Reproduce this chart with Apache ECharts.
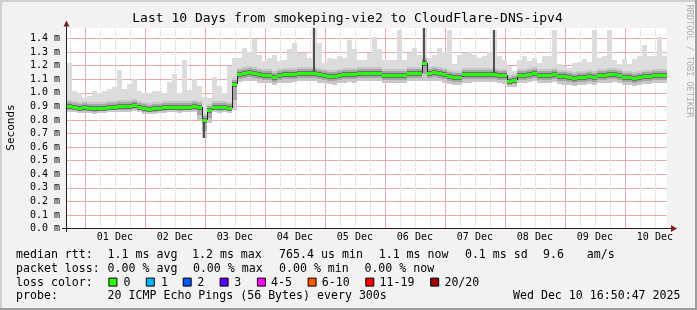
<!DOCTYPE html>
<html><head><meta charset="utf-8">
<script src="https://cdn.jsdelivr.net/npm/echarts@6/dist/echarts.min.js"></script>
<style>html,body{margin:0;padding:0;background:#f2f2f2;}#c{width:697px;height:310px;}</style>
</head><body><div id="c"></div>
<script>
// ---- data (ms), one value per 2-hour bin, starting Nov 30 16:50:47 ----
const binHours = 2;
const median = [
0.902,0.895,0.890,0.893,0.890,0.885,0.888,0.888,0.895,0.895,
0.900,0.902,0.902,0.907,0.898,0.885,0.883,0.885,0.888,0.893,
0.895,0.895,0.895,0.895,0.898,0.900,0.895,0.800,0.870,0.895,
0.893,0.895,0.890,1.065,1.135,1.143,1.150,1.143,1.135,1.130,
1.130,1.120,1.130,1.135,1.135,1.137,1.143,1.147,1.147,1.145,
1.135,1.128,1.125,1.122,1.130,1.135,1.138,1.135,1.143,1.143,
1.147,1.147,1.145,1.130,1.130,1.130,1.130,1.133,1.143,1.143,
1.143,1.220,1.147,1.150,1.143,1.135,1.127,1.120,1.118,1.135,
1.135,1.138,1.140,1.140,1.140,1.140,1.133,1.130,1.085,1.095,
1.133,1.133,1.138,1.147,1.128,1.133,1.133,1.140,1.123,1.123,
1.115,1.112,1.115,1.117,1.122,1.120,1.128,1.128,1.135,1.140,
1.133,1.120,1.115,1.110,1.118,1.122,1.122,1.130,1.130,1.130];
const smokeLow = [
0.860,0.855,0.850,0.852,0.850,0.846,0.848,0.849,0.855,0.856,
0.860,0.861,0.862,0.866,0.858,0.846,0.844,0.845,0.848,0.852,
0.855,0.856,0.854,0.855,0.858,0.860,0.800,0.670,0.780,0.855,
0.853,0.855,0.850,0.870,1.080,1.085,1.090,1.085,1.075,1.070,
1.070,1.060,1.070,1.075,1.075,1.080,1.085,1.090,1.090,1.085,
1.075,1.070,1.065,1.060,1.070,1.075,1.080,1.075,1.085,1.085,
1.090,1.090,1.085,1.070,1.070,1.070,1.070,1.075,1.085,1.085,
1.085,1.090,1.090,1.090,1.085,1.075,1.065,1.060,1.060,1.075,
1.075,1.080,1.080,1.080,1.080,1.080,1.075,1.065,1.040,1.045,
1.075,1.075,1.080,1.085,1.070,1.075,1.075,1.080,1.065,1.060,
1.055,1.050,1.055,1.060,1.065,1.060,1.070,1.070,1.075,1.080,
1.075,1.060,1.055,1.050,1.060,1.065,1.065,1.070,1.070,1.070];
const smokeTop = [
1.220,1.015,1.000,0.960,0.975,1.010,1.000,1.010,1.030,1.040,
1.170,1.030,1.065,1.105,1.010,1.000,1.000,1.010,1.010,1.000,
1.080,1.140,0.995,1.240,1.020,1.100,1.050,0.970,0.960,1.120,
1.050,1.000,1.200,1.260,1.260,1.330,1.300,1.400,1.280,1.235,
1.260,1.280,1.235,1.245,1.320,1.370,1.295,1.295,1.260,1.480,
1.370,1.220,1.260,1.250,1.270,1.260,1.390,1.320,1.245,1.245,
1.290,1.410,1.320,1.245,1.245,1.245,1.460,1.245,1.290,1.330,
1.280,1.480,1.260,1.280,1.330,1.300,1.460,1.210,1.280,1.290,
1.300,1.280,1.260,1.270,1.300,1.460,1.270,1.245,1.200,1.160,
1.245,1.270,1.235,1.260,1.220,1.270,1.270,1.460,1.210,1.200,
1.180,1.220,1.230,1.250,1.230,1.460,1.260,1.270,1.460,1.240,
1.210,1.250,1.210,1.250,1.270,1.350,1.270,1.270,1.410,1.270];
// [bin, value reached by a dark burst of pings]
const darkSpikes = [[27, 0.67], [49, 1.48], [71, 1.48], [85, 1.46]];
const dayLabels = ['01 Dec','02 Dec','03 Dec','04 Dec','05 Dec','06 Dec','07 Dec','08 Dec','09 Dec','10 Dec'];
const firstMidnight = 7 + 9/60 + 13/3600;   // Dec 01 00:00 in hours after start
const spanHours = 240;

// ---- chart ----
const MONO = '"DejaVu Sans Mono", monospace';
const MAJOR = '#eeaaaa', MINOR = '#d2d2d2';
const chart = echarts.init(document.getElementById('c'), null, {renderer: 'canvas', width: 697, height: 310});

// vertical grid lines: [kind, hour]  kind 1 = midnight (major), 2 = every 6 h (minor)
const gridData = [];
for (let h = firstMidnight - 6; h <= spanHours; h += 6) {
  const major = Math.abs(((h - firstMidnight) % 24 + 24) % 24) < 1e-6;
  gridData.push([major ? 1 : 2, h]);
}
const labelHours = dayLabels.map((d, i) => firstMidnight + 12 + 24 * i);

function renderGrid(params, api) {
  const cs = params.coordSys;
  const kind = api.value(0), v = api.value(1);
  const x = Math.round(api.coord([v, 0])[0]) + 0.5;
  const col = kind === 2 ? MINOR : MAJOR;
  return {type: 'line', shape: {x1: x, y1: cs.y, x2: x, y2: cs.y + cs.height},
    style: {stroke: col, lineWidth: 1, lineDash: kind === 2 ? [1, 1] : null}};
}

function rect(x, y, w, h, fill) {
  return {type: 'rect', shape: {x: x, y: y, width: w, height: h}, style: {fill: fill}};
}
const spikeMap = {};
darkSpikes.forEach(s => { spikeMap[s[0]] = s[1]; });

function renderItem(params, api) {
  const i = params.dataIndex;
  const h = api.value(0);
  const pm = api.coord([h, api.value(1)]);
  const x0 = Math.round(pm[0]);
  const x1 = Math.round(api.coord([h + binHours, 0])[0]);
  const w = x1 - x0;
  const yM = Math.round(pm[1]);
  const yLo = Math.round(api.coord([h, api.value(2)])[1]);
  const yTop = Math.round(api.coord([h, api.value(3)])[1]);
  const ch = [];
  ch.push(rect(x0, yTop, w, yLo - yTop, '#dcdcdc'));
  ch.push(rect(x0, yM - 6, w, Math.max(yLo - yM + 6, 8), '#c8c8c8'));
  ch.push(rect(x0, yM - 4, w, Math.max(Math.round((yLo - yM) * 0.6) + 4, 7), '#a6a6a6'));
  ch.push(rect(x0, yM - 2, w, 5, '#6f6f6f'));
  if (spikeMap[i] !== undefined) {
    const ys = Math.round(api.coord([h, spikeMap[i]])[1]);
    ch.push(rect(x0 + 1, Math.min(ys, yM), 2, Math.abs(ys - yM), '#505050'));
  }
  if (i > 0) {
    const yPrev = Math.round(api.coord([h, median[i - 1]])[1]);
    if (Math.abs(yPrev - yM) > 2) {
      ch.push({type: 'line', shape: {x1: x0 + 0.5, y1: yPrev, x2: x0 + 0.5, y2: yM}, style: {stroke: '#222', lineWidth: 1}});
    }
  }
  ch.push(rect(x0, yM - 1, w, 3, '#26ff00'));
  return {type: 'group', children: ch};
}

const legendFont = '11.6px ' + MONO;
function txt(x, y, s, align) {
  return {type: 'text', x: x, y: y, z: 100,
    style: {text: s, font: legendFont, fill: '#000', textAlign: align || 'left', textVerticalAlign: 'middle'}};
}
const rows = [255, 268.8, 282.6, 296.4];
const lossColors = [['0','#26ff00',108.4,123.6],['1','#00b8ff',145.8,160.9],['2','#0059ff',182.7,197.3],['3','#5e00ff',219.6,234.2],
  ['4-5','#ff00ff',256.9,271.1],['6-10','#ff5500',307.6,321.8],['11-19','#ff0000',365.3,379.6],['20/20','#a10000',430.2,444.4]];

const graphics = [
  {type: 'rect', shape: {x: 0, y: 0, width: 697, height: 2}, style: {fill: '#cfcfcf'}, z: 100},
  {type: 'rect', shape: {x: 0, y: 0, width: 2, height: 310}, style: {fill: '#cfcfcf'}, z: 100},
  {type: 'rect', shape: {x: 0, y: 308, width: 697, height: 2}, style: {fill: '#9e9e9e'}, z: 100},
  {type: 'rect', shape: {x: 695, y: 0, width: 2, height: 310}, style: {fill: '#9e9e9e'}, z: 100},
  {type: 'line', shape: {x1: 62, y1: 228.5, x2: 672, y2: 228.5}, style: {stroke: '#1f1f1f', lineWidth: 1}, z: 100},
  {type: 'polygon', shape: {points: [[671, 225], [677, 228.5], [671, 232]]}, style: {fill: '#801f1f'}, z: 100},
  {type: 'line', shape: {x1: 66.5, y1: 232, x2: 66.5, y2: 26}, style: {stroke: '#1f1f1f', lineWidth: 1}, z: 100},
  {type: 'polygon', shape: {points: [[63.5, 26.5], [66.5, 20.5], [69.5, 26.5]]}, style: {fill: '#801f1f'}, z: 100},
  {type: 'text', x: 347.5, y: 19, z: 100, style: {text: 'Last 10 Days from smokeping-vie2 to CloudFlare-DNS-ipv4', font: '13px ' + MONO, fill: '#000', textAlign: 'center', textVerticalAlign: 'middle'}},
  {type: 'text', x: 11, y: 127.5, rotation: Math.PI / 2, z: 100, style: {text: 'Seconds', font: '11px ' + MONO, fill: '#000', textAlign: 'center', textVerticalAlign: 'middle'}},
  {type: 'text', x: 689, y: 61, rotation: -Math.PI / 2, z: 100, style: {text: 'RRDTOOL / TOBI OETIKER', font: '8.5px ' + MONO, fill: '#b0b0b0', textAlign: 'center', textVerticalAlign: 'middle'}},
  txt(16, rows[0], 'median rtt:'), txt(107.6, rows[0], '1.1 ms avg'), txt(192, rows[0], '1.2 ms max'),
  txt(279.1, rows[0], '765.4 us min'), txt(378.7, rows[0], '1.1 ms now'), txt(464.9, rows[0], '0.1 ms sd'),
  txt(543.1, rows[0], '9.6'), txt(586.7, rows[0], 'am/s'),
  txt(16, rows[1], 'packet loss:'), txt(107.6, rows[1], '0.00 % avg'), txt(192.9, rows[1], '0.00 % max'),
  txt(279, rows[1], '0.00 % min'), txt(364.4, rows[1], '0.00 % now'),
  txt(16, rows[2], 'loss color:'),
  txt(16, rows[3], 'probe:'), txt(107.6, rows[3], '20 ICMP Echo Pings (56 Bytes) every 300s'),
  txt(680.5, rows[3], 'Wed Dec 10 16:50:47 2025', 'right')
];
lossColors.forEach(c => {
  graphics.push({type: 'rect', z: 100, shape: {x: c[2] + 0.5, y: rows[2] - 4.5, width: 8, height: 8}, style: {fill: c[1], stroke: '#000', lineWidth: 1}});
  graphics.push(txt(c[3], rows[2], c[0]));
});

chart.setOption({
  animation: false,
  backgroundColor: '#f2f2f2',
  grid: {left: 67, right: 30, top: 28, bottom: 81.5, show: true, backgroundColor: '#ffffff', borderWidth: 0},
  xAxis: {
    type: 'value', min: 0, max: spanHours,
    axisLine: {show: false}, axisTick: {show: false}, splitLine: {show: false},
    axisLabel: {customValues: labelHours, formatter: v => dayLabels[Math.round((v - labelHours[0]) / 24)],
      fontFamily: 'DejaVu Sans Mono', fontSize: 10, color: '#000', margin: 4}
  },
  yAxis: {
    type: 'value', min: 0, max: 1.4774, interval: 0.1,
    axisLine: {show: false}, axisTick: {show: false},
    splitLine: {show: true, showMinLine: false, showMaxLine: false, lineStyle: {color: MAJOR, type: 'solid', width: 1}},
    axisLabel: {formatter: v => (v > 1.45 ? '' : v.toFixed(1) + ' m'), fontFamily: 'DejaVu Sans Mono', fontSize: 10, color: '#000', margin: 7}
  },
  series: [
    {type: 'custom', z: 1, silent: true, renderItem: renderGrid, encode: {x: -1, y: -1}, data: gridData},
    {type: 'custom', z: 2, clip: true, silent: true, renderItem: renderItem,
     encode: {x: 0, y: 1},
     data: median.map((m, i) => [i * binHours, m, smokeLow[i], smokeTop[i]])}
  ],
  graphic: graphics
});
</script></body></html>
